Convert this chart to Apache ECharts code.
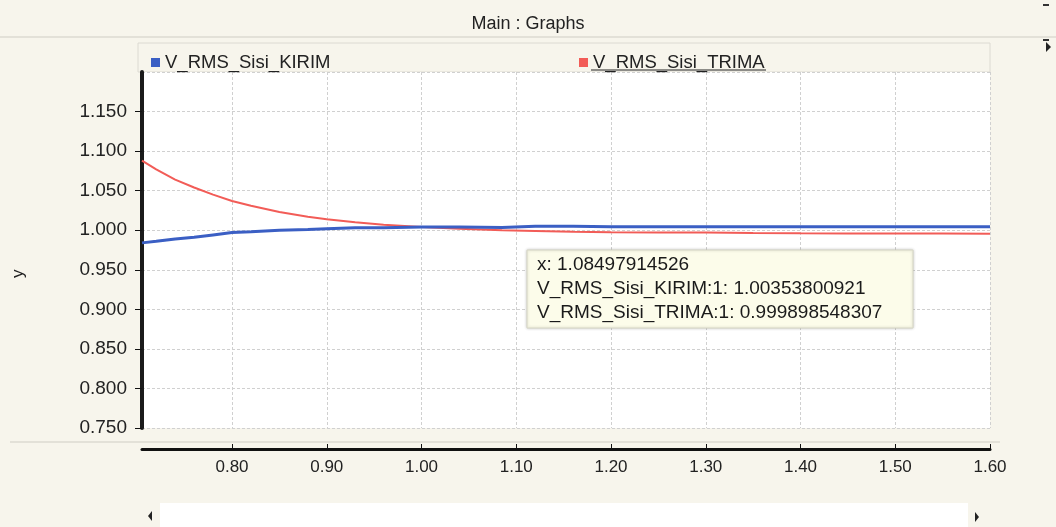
<!DOCTYPE html>
<html>
<head>
<meta charset="utf-8">
<script src="https://cdn.jsdelivr.net/npm/echarts@6/dist/echarts.min.js"></script>
<style>
  html, body { margin: 0; padding: 0; background: #f7f5ec; }
  #chart { width: 1056px; height: 527px; }
</style>
</head>
<body>
<div id="chart"></div>
<script>
const xValues = [0.705, 0.72, 0.74, 0.76, 0.78, 0.80, 0.82, 0.85, 0.88, 0.90, 0.93, 0.96, 1.00,
  1.04, 1.085, 1.12, 1.16, 1.20, 1.25, 1.30, 1.35, 1.40, 1.45, 1.50, 1.55, 1.60];
const kirim = [0.984, 0.986, 0.989, 0.991, 0.994, 0.997, 0.998, 1.000, 1.001, 1.002, 1.003, 1.003, 1.004,
  1.004, 1.0035, 1.005, 1.005, 1.0045, 1.0045, 1.0045, 1.0045, 1.0045, 1.0045, 1.0045, 1.0045, 1.0043];
const trima = [1.088, 1.077, 1.064, 1.054, 1.045, 1.037, 1.031, 1.023, 1.017, 1.014, 1.010, 1.007, 1.004,
  1.002, 0.9999, 0.999, 0.998, 0.9975, 0.997, 0.997, 0.9965, 0.9962, 0.996, 0.996, 0.9958, 0.9956];
const xTicks = [0.8, 0.9, 1.0, 1.1, 1.2, 1.3, 1.4, 1.5, 1.6];
const tipLines = [
  "x: 1.08497914526",
  "V_RMS_Sisi_KIRIM:1: 1.00353800921",
  "V_RMS_Sisi_TRIMA:1: 0.999898548307",
];

const font = "Arial, 'Liberation Sans', sans-serif";
const chart = echarts.init(document.querySelector("#chart"));

const pair = (ys) => xValues.map((x, i) => [x, ys[i]]);

chart.setOption({
  backgroundColor: "#f7f5ec",
  animation: false,
  title: {
    text: "Main : Graphs",
    left: "center",
    top: 10,
    textStyle: { fontFamily: font, fontSize: 18, fontWeight: "normal", color: "#222" },
  },
  legend: [
    {
      left: 146, top: 48, icon: "rect", itemWidth: 9, itemHeight: 9, itemGap: 4,
      data: ["V_RMS_Sisi_KIRIM"],
      textStyle: { fontFamily: font, fontSize: 18.5, color: "#222" },
    },
    {
      left: 574, top: 48, icon: "rect", itemWidth: 9, itemHeight: 9, itemGap: 4,
      data: ["V_RMS_Sisi_TRIMA"],
      textStyle: { fontFamily: font, fontSize: 18.5, color: "#222" },
    },
  ],
  grid: {
    left: 142, right: 66, top: 72, bottom: 99,
    show: true, backgroundColor: "#ffffff", borderWidth: 0,
  },
  xAxis: {
    type: "value",
    min: 0.705,
    max: 1.6,
    offset: 21,
    axisLine: { lineStyle: { color: "#111", width: 3 } },
    axisTick: { customValues: xTicks, length: 5, inside: true, lineStyle: { color: "#111" } },
    axisLabel: {
      customValues: xTicks,
      formatter: (v) => v.toFixed(2),
      fontFamily: font, fontSize: 17, color: "#222", margin: 10,
    },
    splitLine: { show: true, lineStyle: { color: "#d0d0d0", type: [3, 2] } },
  },
  yAxis: {
    type: "value",
    min: 0.75,
    max: 1.2,
    interval: 0.05,
    axisLine: { show: true, lineStyle: { color: "#1a1a1a", width: 4 } },
    axisTick: { show: true, length: 7, lineStyle: { color: "#111" } },
    axisLabel: {
      showMaxLabel: false,
      formatter: (v) => v.toFixed(3),
      fontFamily: font, fontSize: 19, color: "#222", margin: 15,
    },
    splitLine: { show: true, lineStyle: { color: "#d0d0d0", type: [3, 2] } },
  },
  series: [
    {
      name: "V_RMS_Sisi_KIRIM",
      type: "line",
      data: pair(kirim),
      showSymbol: false,
      color: "#3b5fc4",
      lineStyle: { width: 3, color: "#3b5fc4" },
      z: 3,
    },
    {
      name: "V_RMS_Sisi_TRIMA",
      type: "line",
      data: pair(trima),
      showSymbol: false,
      color: "#f25c57",
      lineStyle: { width: 2, color: "#f25c57" },
      z: 2,
    },
  ],
  graphic: [
    // legend frame
    { type: "rect", shape: { x: 138, y: 43, width: 852, height: 29 }, style: { fill: "none", stroke: "#dcdad2" }, z: -1 },
    // title separator and lower frame line
    { type: "line", shape: { x1: 0, y1: 37, x2: 1056, y2: 37 }, style: { stroke: "#cfcdc4" } },
    { type: "line", shape: { x1: 591, y1: 70, x2: 766, y2: 70 }, style: { stroke: "#222", lineWidth: 1 } },
    { type: "line", shape: { x1: 10, y1: 442, x2: 1000, y2: 442 }, style: { stroke: "#cfcdc4" } },
    // y name
    {
      type: "text", x: 10, y: 278, rotation: Math.PI / 2,
      style: { text: "y", fontFamily: font, fontSize: 17, fill: "#222" },
    },
    // window controls
    { type: "rect", shape: { x: 1043, y: 4, width: 6, height: 2 }, style: { fill: "#333" } },
    { type: "rect", shape: { x: 1043, y: 39, width: 6, height: 2 }, style: { fill: "#333" } },
    { type: "polygon", shape: { points: [[1046, 42], [1051, 47], [1046, 52]] }, style: { fill: "#222" } },
    // scrollbar
    { type: "rect", shape: { x: 160, y: 503, width: 808, height: 24 }, style: { fill: "#ffffff" } },
    { type: "polygon", shape: { points: [[152, 511], [148, 516], [152, 521]] }, style: { fill: "#222" } },
    { type: "polygon", shape: { points: [[975, 512], [979, 517], [975, 522]] }, style: { fill: "#222" } },
    // tooltip box
    {
      type: "rect",
      shape: { x: 527, y: 250, width: 386, height: 78 },
      style: { fill: "#fcfcea", stroke: "#d6d6c4", shadowBlur: 3, shadowColor: "rgba(0,0,0,0.2)" },
      z: 10,
    },
    ...tipLines.map((t, i) => ({
      type: "text",
      x: 537,
      y: 255 + i * 24,
      style: { text: t, fontFamily: font, fontSize: 19, fill: "#1a1a1a" },
      z: 11,
    })),
  ],
});
</script>
</body>
</html>
